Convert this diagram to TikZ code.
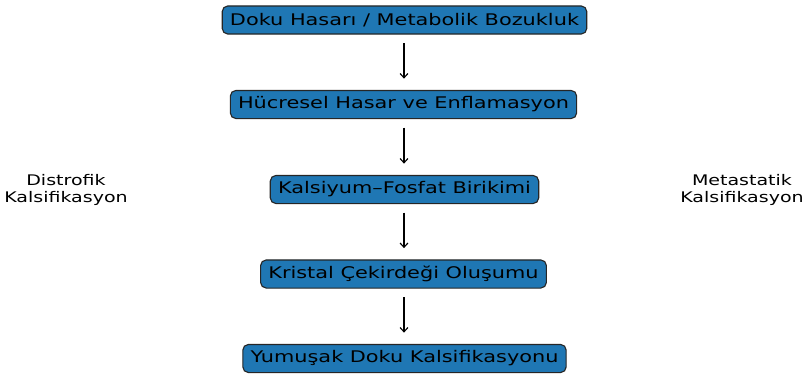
\documentclass[tikz,border=0pt]{standalone}
\usepackage{fontspec}
\setmainfont[FakeStretch=1.3]{DejaVu Sans}
\usetikzlibrary{arrows.meta}
\definecolor{boxblue}{HTML}{1F77B4}
\begin{document}
\begin{tikzpicture}[x=0.025cm, y=-0.025cm,
		adim/.style={draw=black!85, fill=boxblue, rounded corners=4pt, line width=0.8pt,
			minimum height=20pt, inner xsep=5.5pt, font=\fontsize{11.4}{13}\selectfont},
		yan/.style={align=center, font=\fontsize{10.4}{12}\selectfont}]
			\useasboundingbox (0,0) rectangle (805,375);
			%steps
			\node[adim] (hasar) at (404.5, 20){Doku Hasarı / Metabolik Bozukluk};
			\node[adim] (enflamasyon) at (403.5, 104.5){Hücresel Hasar ve Enflamasyon};
			\node[adim] (birikim) at (404.5, 189.5){Kalsiyum–Fosfat Birikimi};
			\node[adim] (cekirdek) at (403.5, 274){Kristal Çekirdeği Oluşumu};
			\node[adim] (kalsifikasyon) at (404.5, 358.5){Yumuşak Doku Kalsifikasyonu};
			
			\foreach \a/\b in {hasar/enflamasyon, enflamasyon/birikim, birikim/cekirdek, cekirdek/kalsifikasyon}{
				\draw[-{Straight Barb[length=3pt,width=5.5pt]}, line width=0.8pt, shorten <=6pt, shorten >=8pt] (404, 0 |- \a.south) -- (404, 0 |- \b.north);
			}
			
			%side labels
			\node[yan] (distrofik) at (66, 190){Distrofik\\Kalsifikasyon};
			\node[yan] (metastatik) at (742, 190){Metastatik\\Kalsifikasyon};
		\end{tikzpicture}
\end{document}
